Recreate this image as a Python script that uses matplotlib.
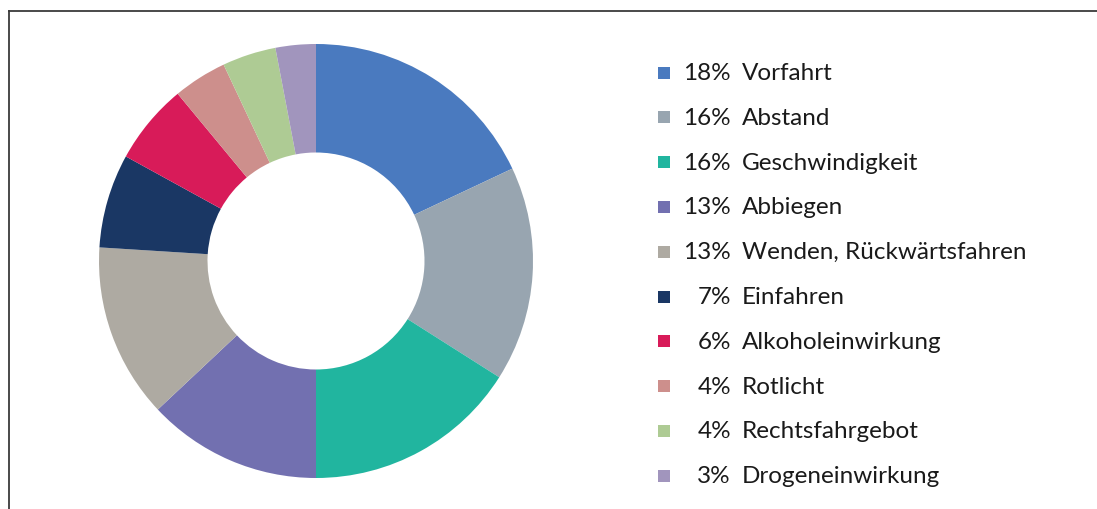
import matplotlib.pyplot as plt
from matplotlib.lines import Line2D
from matplotlib.patches import Rectangle

labels = ["Vorfahrt", "Abstand", "Geschwindigkeit", "Abbiegen",
          "Wenden, Rückwärtsfahren", "Einfahren", "Alkoholeinwirkung",
          "Rotlicht", "Rechtsfahrgebot", "Drogeneinwirkung"]
shares = [18, 16, 16, 13, 13, 7, 6, 4, 4, 3]
colors = ["#4a7abf", "#98a5b0", "#21b59f", "#7270b0", "#aeaaa2",
          "#1a3764", "#d81b59", "#cd8f8c", "#aecb94", "#a195bd"]

W, H = 1097, 510
fig = plt.figure(figsize=(W / 100, H / 100), dpi=100)
plt.rcParams['font.family'] = ['Lato', 'DejaVu Sans']

# donut: centre (316, 262) px, radius 217 px
cx, cy, r = 316, 262, 217
ax = fig.add_axes([(cx - r) / W, (H - cy - r) / H, 2 * r / W, 2 * r / H])
ax.pie(shares, colors=colors, startangle=90, counterclock=False,
       radius=1, wedgeprops=dict(width=0.5, edgecolor="none"))
ax.set_xlim(-1, 1)
ax.set_ylim(-1, 1)
ax.set_aspect("equal")
ax.axis("off")

# frame lines (top and left)
fig.add_artist(Line2D([9 / W, 1], [1 - 12 / H, 1 - 12 / H], color="#3a3a3a", lw=1.3))
fig.add_artist(Line2D([9 / W, 9 / W], [0, 1 - 12 / H], color="#3a3a3a", lw=1.3))

# legend built by hand
y0, dy = 73.5, 44.8
for i, (lab, val, col) in enumerate(zip(labels, shares, colors)):
    y = y0 + i * dy
    fig.add_artist(Rectangle((658 / W, 1 - (y + 6) / H), 12 / W, 12 / H,
                             transform=fig.transFigure, color=col, lw=0))
    fig.text(731 / W, 1 - y / H, f"{val}%", ha="right", va="center",
             fontsize=17.5, color="#1a1a1a")
    fig.text(742 / W, 1 - y / H, lab, ha="left", va="center",
             fontsize=17.5, color="#1a1a1a")

fig.savefig("out.png", dpi=100)
